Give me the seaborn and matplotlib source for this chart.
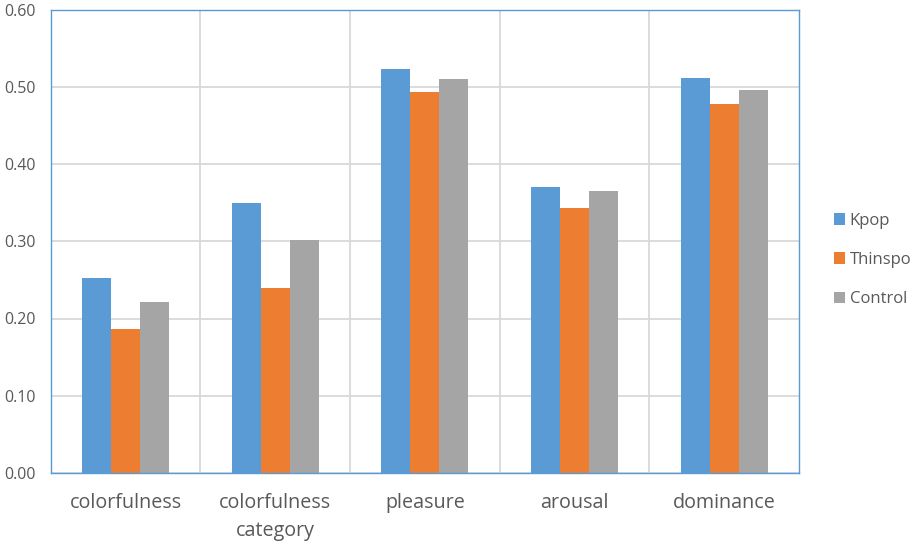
import matplotlib
matplotlib.use("Agg")
import matplotlib.pyplot as plt
import seaborn as sns
import pandas as pd
from matplotlib.patches import Patch

categories = ["colorfulness", "colorfulness\ncategory", "pleasure", "arousal", "dominance"]
series_names = ["Kpop", "Thinspo", "Control"]
kpop = [0.253, 0.350, 0.524, 0.371, 0.512]
thinspo = [0.186, 0.240, 0.494, 0.343, 0.479]
control = [0.222, 0.302, 0.511, 0.366, 0.497]
yticks = [0.0, 0.1, 0.2, 0.3, 0.4, 0.5, 0.6]
colors = ["#5B9BD5", "#ED7D31", "#A5A5A5"]

rows = []
for name, vals in zip(series_names, [kpop, thinspo, control]):
    for c, v in zip(categories, vals):
        rows.append({"category": c, "series": name, "value": v})
df = pd.DataFrame(rows)

sns.set_theme(style="white")
plt.rcParams['font.family'] = ['Open Sans', 'DejaVu Sans']

fig = plt.figure(figsize=(9.17, 5.46), dpi=100)
ax = fig.add_axes([0.0553, 0.1346, 0.8160, 0.8462])

sns.barplot(data=df, x="category", y="value", hue="series", order=categories,
            hue_order=series_names, palette=colors, width=0.58, saturation=1,
            ax=ax, legend=False, edgecolor="none", linewidth=0)

ax.set_ylim(0, 0.6)
ax.set_xlim(-0.5, len(categories) - 0.5)
ax.set_yticks(yticks)
ax.set_yticklabels([f"{t:.2f}" for t in yticks])
for y in yticks[1:-1]:
    ax.axhline(y, color="#D9D9D9", lw=1.3, zorder=0)
for i in range(1, len(categories)):
    ax.axvline(i - 0.5, color="#D9D9D9", lw=1.3, zorder=0)
ax.axhline(0, color="#D9D9D9", lw=1.3, zorder=0)

for s in ax.spines.values():
    s.set_color("#5B9BD5")
    s.set_linewidth(1.0)

ax.set_xlabel("")
ax.set_ylabel("")
ax.tick_params(axis="y", length=0, pad=11, labelsize=11.5, labelcolor="#595959")
ax.tick_params(axis="x", length=0, pad=15, labelsize=14.2, labelcolor="#595959")
for lbl in ax.get_xticklabels():
    lbl.set_linespacing(1.5)

handles = [Patch(facecolor=c, edgecolor="none") for c in colors]
leg = fig.legend(handles, series_names, loc="center left", bbox_to_anchor=(0.902, 0.524),
                 frameon=False, fontsize=12, labelspacing=1.4, handlelength=0.7,
                 handleheight=0.7, handletextpad=0.25, borderaxespad=0)
for t in leg.get_texts():
    t.set_color("#595959")

fig.savefig("out.png", dpi=100)
